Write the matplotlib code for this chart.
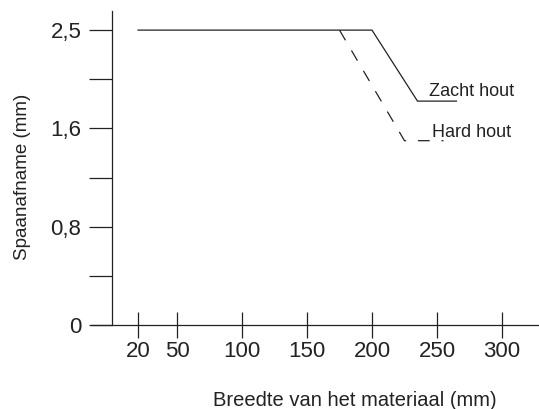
import numpy as np
import matplotlib
matplotlib.use('Agg')
import matplotlib.pyplot as plt

# data
zacht_x = [20, 200, 235, 265]
zacht_y = [2.5, 2.5, 1.85, 1.85]
hard_x = [175, 225, 255]
hard_y = [2.5, 1.5, 1.5]
x_ticks = [20, 50, 100, 150, 200, 250, 300]
y_ticks = [0, 0.8, 1.6, 2.5]
y_labels = ['0', '0,8', '1,6', '2,5']
y_minor = [0.4, 1.2, 2.05]

# y axis is spaced by tick, not by value
y_knots = [0, 0.8, 1.6, 2.5, 3.4]
y_pos = [0, 2, 4, 6, 8]

def fwd(v):
    return np.interp(v, y_knots, y_pos)

def inv(p):
    return np.interp(p, y_pos, y_knots)

plt.rcParams['font.family'] = ['Liberation Sans', 'DejaVu Sans']
plt.rcParams['lines.scale_dashes'] = False
ink = '#222222'

fig = plt.figure(figsize=(5.39, 4.09), dpi=100)
ax = fig.add_axes([91 / 539, 84 / 409, 448 / 539, 314 / 409])

ax.plot(zacht_x, zacht_y, color=ink, lw=0.9, solid_joinstyle='miter')
ax.plot(hard_x, hard_y, color=ink, lw=0.9, dashes=(8.5, 8.5))

ax.set_yscale('function', functions=(fwd, inv))
ax.set_xlim(-16.2, 328.5)
ax.set_ylim(0, 2.675)

ax.spines['top'].set_visible(False)
ax.spines['right'].set_visible(False)
ax.spines['left'].set_position(('data', 0))
for s in ('left', 'bottom'):
    ax.spines[s].set_color(ink)
    ax.spines[s].set_linewidth(0.9)

ax.set_xticks(x_ticks)
ax.set_xticklabels([str(t) for t in x_ticks])
ax.set_yticks(y_ticks)
ax.set_yticklabels(y_labels)
ax.set_yticks(y_minor, minor=True)
ax.xaxis.set_minor_locator(matplotlib.ticker.NullLocator())

ax.tick_params(axis='x', direction='inout', length=18.5, width=0.9, color=ink,
               labelsize=16, labelcolor=ink, pad=2)
ax.tick_params(axis='y', which='both', direction='out', length=16.5, width=0.9,
               color=ink, labelsize=16, labelcolor=ink, pad=5.5)

ax.annotate('Zacht hout', xy=(zacht_x[2], zacht_y[2]), xytext=(8.5, 3.6),
            textcoords='offset points', ha='left', va='baseline',
            fontsize=13, color=ink)
ax.annotate('Hard hout', xy=(hard_x[1], hard_y[1]), xytext=(20, 2.9),
            textcoords='offset points', ha='left', va='baseline',
            fontsize=13, color=ink)

fig.text(355 / 539, 3 / 409, 'Breedte van het materiaal (mm)', ha='center',
         va='baseline', fontsize=14.5, color=ink)
fig.text(23 / 539, 1 - 177 / 409, 'Spaanafname (mm)', ha='center', va='center',
         rotation=90, fontsize=13.5, color=ink)

fig.savefig('out.png', dpi=100)
